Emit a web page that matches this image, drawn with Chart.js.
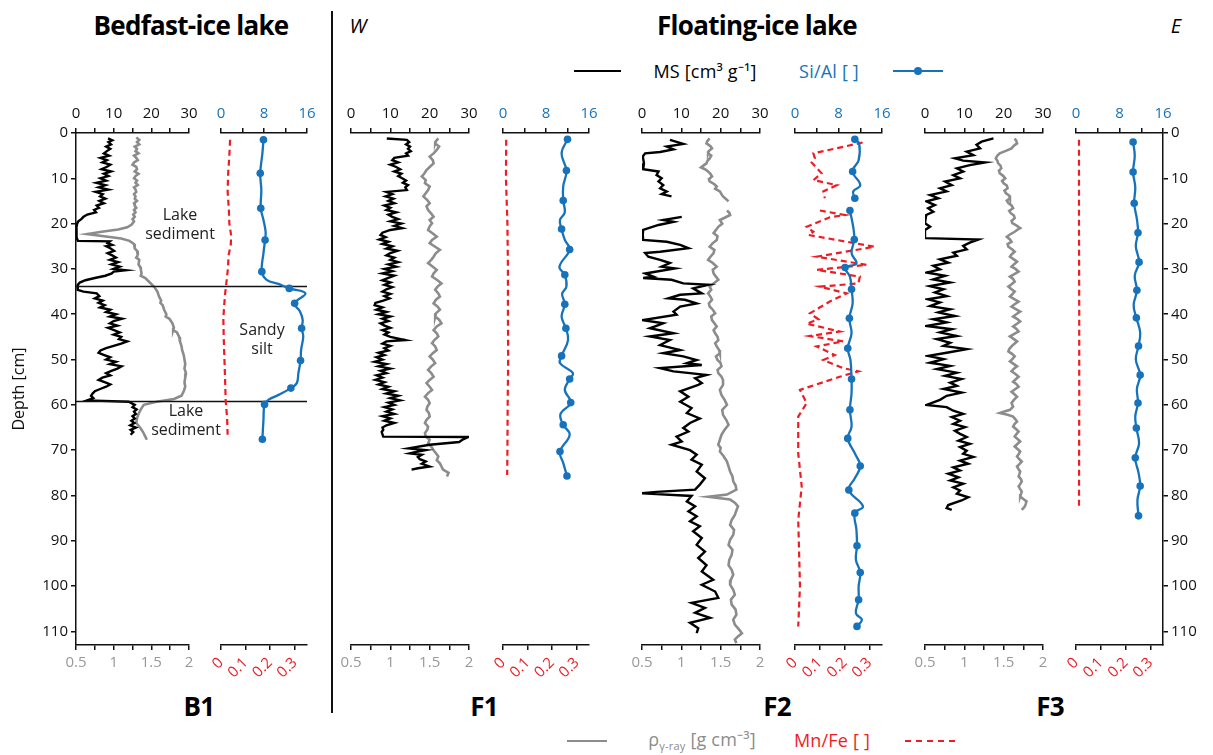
<!DOCTYPE html>
<html>
<head>
<meta charset="utf-8">
<script src="https://cdn.jsdelivr.net/npm/chart.js@4.4.1/dist/chart.umd.min.js"></script>
<style>
  body { margin: 0; background: #fff; }
  #page { position: relative; width: 1213px; height: 755px; overflow: hidden; background: #fff; font-family: 'Open Sans', sans-serif; }
  #page canvas { position: absolute; }
  .t { position: absolute; white-space: nowrap; transform: translate(-50%, -50%); }
  .big { font-weight: 700; font-size: 26px; letter-spacing: -0.7px; color: #000; }
  .dir { font-style: italic; font-size: 20px; color: #000; }
  .lg { font-size: 18px; letter-spacing: 0.2px; }
  .sep { position: absolute; left: 331px; top: 11px; width: 1.5px; height: 702px; background: #111; }
  .ln { position: absolute; height: 0; }
</style>
</head>
<body>
<div id="page">
  <div class="sep"></div>
  <div class="t big" style="left:191px;top:25px">Bedfast-ice lake</div>
  <div class="t dir" style="left:358px;top:25px">W</div>
  <div class="t big" style="left:757px;top:25px">Floating-ice lake</div>
  <div class="t dir" style="left:1176px;top:25px">E</div>

  <div class="ln" style="left:574px;top:70px;width:47px;border-top:2px solid #000"></div>
  <div class="t lg" style="left:705px;top:71px;color:#000">MS [cm³ g⁻¹]</div>
  <div class="t lg" style="left:829px;top:71px;color:#1673bb">Si/Al [ ]</div>
  <div class="ln" style="left:893px;top:70px;width:50px;border-top:2px solid #1673bb"></div>
  <div style="position:absolute;left:914px;top:67px;width:8px;height:8px;border-radius:50%;background:#1673bb"></div>

  <div class="ln" style="left:567px;top:740px;width:40px;border-top:2px solid #8c8c8c"></div>
  <div class="t lg" style="left:702px;top:740px;color:#8c8c8c">ρ<sub style="font-size:11px">γ-ray</sub> [g cm⁻³]</div>
  <div class="t lg" style="left:832px;top:740px;color:#ee1c24">Mn/Fe [ ]</div>
  <div class="ln" style="left:905px;top:740px;width:50px;border-top:2px dashed #ee1c24"></div>

  <div class="t big" style="left:199px;top:706px">B1</div>
  <div class="t big" style="left:484px;top:706px">F1</div>
  <div class="t big" style="left:777px;top:706px">F2</div>
  <div class="t big" style="left:1050px;top:706px">F3</div>
</div>
<script>
// ---- data: [depth cm, value] ----
const depthTicks = [0, 10, 20, 30, 40, 50, 60, 70, 80, 90, 100, 110];
const msTicks = [0, 10, 20, 30];
const rhoTicks = [0.5, 1, 1.5, 2];
const siTicks = [0, 8, 16];
const mnTicks = [0, 0.1, 0.2, 0.3];

// B1
const msB1 = [[1.2,8.5],[1.6,9.6],[2,8.6],[2.5,9.3],[3,8],[3.5,9.1],[4,8.2],[4.5,7.4],[5,8.8],[5.5,6.5],[6,8.2],[6.5,7],[7,9.1],[7.5,8.1],[8,6.8],[8.5,9.3],[9,7.4],[9.5,8.6],[10,6.5],[10.5,8],[11,5.4],[11.5,7.8],[12,6],[12.5,8.6],[13,5.2],[13.5,7.1],[14,6.4],[14.5,7.8],[15,6.2],[15.5,7.4],[16,5.5],[16.5,6.1],[17,4.8],[17.5,5.3],[18,3],[18.5,2],[19,1.4],[19.5,0.6],[20,0.3],[21,0.1],[22,0.1],[23,0.2],[23.8,0.5],[23.9,9],[24.3,8.4],[24.7,9.6],[25,8],[25.5,9.2],[26,10.1],[26.5,8.4],[27,9.6],[27.5,10.6],[28,9],[28.5,11.2],[29,9.4],[29.5,11.6],[30,10],[30.3,13.2],[30.6,10],[31,9.5],[31.5,7.8],[32,5],[32.5,2.5],[33,1],[33.5,0.5],[34,0.4],[34.6,0.5],[35,2],[35.4,5.5],[36,6.2],[36.5,5],[37,7.1],[37.5,6],[38,7.6],[38.5,6.4],[39,9.1],[39.5,8],[40,10.6],[40.5,9],[41,12.2],[41.5,10],[42,9],[42.5,11],[43,8.5],[43.5,10.1],[44,11.6],[44.5,10],[45,12],[45.5,11.4],[46,13.6],[46.5,12],[47,10],[47.5,8],[48,6.5],[48.5,6],[49,7.5],[49.5,9.1],[50,8],[50.5,10.6],[51,9],[51.5,12.1],[52,11],[52.5,9.4],[53,8],[53.5,9.1],[54,7],[54.5,6],[55,7.6],[55.5,9.1],[56,8],[56.5,6.4],[57,5],[57.5,4.4],[58,4],[58.5,4.6],[59,3],[59.3,14],[60,15.6],[60.5,15],[61,16.1],[61.5,15.4],[62,15.9],[62.5,15],[63,15.6],[63.5,14.7],[64,15.5],[64.5,14.4],[65,15.9],[65.5,14.5],[66,15.2],[66.6,14.5]];
const rhoB1 = [[1,1.3],[1.5,1.34],[2,1.31],[2.5,1.34],[3,1.28],[3.5,1.31],[4,1.29],[4.5,1.33],[5,1.27],[5.5,1.3],[6,1.32],[6.5,1.27],[7,1.25],[7.5,1.3],[8,1.31],[8.5,1.28],[9,1.33],[9.5,1.29],[10,1.27],[10.5,1.31],[11,1.29],[11.5,1.32],[12,1.27],[12.5,1.29],[13,1.3],[13.5,1.27],[14,1.29],[14.5,1.28],[15,1.31],[15.5,1.27],[16,1.28],[16.5,1.3],[17,1.27],[17.5,1.29],[18,1.26],[18.5,1.28],[19,1.25],[19.5,1.27],[20.2,1.24],[20.8,1.18],[21.3,1.06],[21.8,0.84],[22.3,0.65],[22.8,0.87],[23.3,1.1],[23.8,1.21],[24.5,1.27],[25.5,1.28],[26,1.31],[27,1.32],[27.5,1.3],[28,1.34],[29,1.33],[29.5,1.35],[30,1.36],[31,1.37],[31.5,1.36],[32,1.42],[33,1.48],[34,1.54],[35,1.58],[36,1.6],[37,1.63],[37.5,1.62],[38,1.65],[39,1.67],[40,1.7],[40.5,1.69],[41,1.74],[42,1.78],[43,1.8],[43.5,1.79],[44,1.84],[45,1.87],[46,1.88],[47,1.9],[48,1.91],[49,1.93],[50,1.94],[51,1.95],[52,1.94],[53,1.96],[54,1.95],[55,1.94],[56,1.95],[57,1.93],[58,1.9],[58.7,1.8],[59.3,1.57],[60,1.4],[61,1.36],[62,1.33],[63,1.31],[64,1.3],[65,1.35],[66,1.39],[67,1.42],[67.7,1.44]];
// [depth, value, dot]
const siB1 = [[1.5,7.9,1],[4.5,7.7],[8.9,7.3,1],[12.6,7.5],[16.6,7.4,1],[19.2,7.9],[21.8,8.3],[23.6,8.2,1],[26.5,7.9],[30.6,7.6,1],[32.4,8.5],[33.3,10.7],[34.3,12.7,1],[35.4,15.7],[37.6,13.7,1],[39.4,14.7],[41.3,15.2],[43.1,15.0,1],[44.9,15.3],[47.9,14.9],[50.2,14.8,1],[53,14.4],[55.2,14.1],[56.3,13.0,1],[57.8,10.7],[58.9,8.8],[59.9,8.1,1],[63.3,7.9],[67.6,7.7,1]];
const mnB1 = [[1.5,0.037],[5,0.034],[9,0.029],[13,0.027],[17,0.032],[20,0.034],[22.5,0.041],[24.5,0.04],[27,0.031],[30,0.028],[32.5,0.023],[35.4,0.017],[38,0.013],[41,0.0095],[45,0.011],[50,0.014],[55,0.017],[59,0.019],[63,0.025],[66.6,0.027]];

// F1
const msF1 = [[1.2,9.1],[1.5,14.2],[2,14.8],[2.5,14],[3,15],[3.5,14.5],[4,15.2],[4.5,14],[5,14.5],[5.5,11],[6,10.5],[6.5,12],[7,10],[7.5,11.5],[8,12.5],[8.5,11],[9,12.8],[9.5,12],[10,13],[10.5,14],[11,13.2],[11.5,14.5],[12,13.8],[12.6,14.2],[13,9],[13.5,10.5],[14,8.8],[14.5,10.8],[15,9.5],[15.5,11],[16,8.5],[16.5,10],[17,9],[17.5,11.5],[18,9.5],[18.5,10.5],[19,12],[19.5,10],[20,12.8],[20.5,11],[21,13],[21.4,10],[22,8],[22.5,7.5],[23,8.8],[23.5,7.2],[24,9.5],[24.5,8],[25,10.5],[25.5,9],[26,11.8],[26.5,10],[27,9],[27.5,11],[28,10],[28.5,12],[29,9.5],[29.5,11.5],[30,8.5],[30.5,10.5],[31,8],[31.5,11],[32,9.5],[32.5,8],[33,10],[33.5,8.5],[34,10.5],[34.5,9],[35,8],[35.5,10],[36,8.5],[36.5,9.8],[37,8.2],[37.5,6.2],[38,6],[38.5,8],[39,6.5],[39.5,9],[40,7],[40.5,10],[41,8],[41.5,9.5],[42,7.5],[42.5,8.5],[43,10],[43.5,8],[44,9.5],[44.5,8.5],[45,10],[45.7,13.8],[46,9],[46.5,8],[47,10],[47.5,8.5],[48,9.5],[48.5,7],[49,8.5],[49.5,6.5],[50,8],[50.5,6],[51,9],[51.5,7],[52,10],[52.5,7.5],[53,9],[53.5,6.5],[54,8],[54.5,6.2],[55,8.5],[55.5,7],[56,9.5],[56.5,8],[57,11],[57.5,9],[58,12],[58.5,10],[59,12.5],[59.5,9.5],[60,11],[60.5,8.5],[61,10.5],[61.5,9],[62,11],[62.5,8],[63,10],[63.5,8.5],[64,11],[64.5,9],[65,8],[65.5,8.2],[66,7.8],[66.5,8],[67,8.2],[67.1,29.8],[67.6,28.5],[68.2,27.5],[68.8,20],[69.6,14.6],[70,19],[70.5,16],[70.7,15],[71,18],[71.5,17],[72,17.5],[72.5,19],[73,18],[73.6,20],[74,17],[74.3,15.4]];
const rhoF1 = [[1.2,1.61],[1.8,1.58],[2.3,1.57],[3,1.62],[3.75,1.59],[4.5,1.55],[5.2,1.5],[6,1.54],[6.7,1.55],[7.5,1.5],[8.2,1.46],[9,1.43],[9.6,1.4],[10.4,1.45],[11.1,1.44],[11.8,1.5],[12.6,1.48],[13.3,1.45],[14,1.42],[14.8,1.47],[15.5,1.5],[16.2,1.46],[17,1.48],[17.8,1.52],[18.5,1.55],[19.2,1.5],[19.9,1.53],[20.6,1.5],[21.4,1.48],[22.2,1.54],[22.9,1.59],[23.6,1.53],[24.3,1.5],[25,1.56],[25.8,1.63],[26.5,1.58],[27.3,1.55],[28,1.52],[28.7,1.48],[29.5,1.54],[30.2,1.59],[31,1.55],[31.7,1.53],[32.5,1.6],[33.2,1.65],[33.9,1.6],[34.6,1.57],[35.4,1.61],[36.1,1.63],[36.8,1.58],[37.6,1.55],[38.3,1.6],[39,1.63],[39.8,1.58],[40.5,1.57],[41.2,1.62],[42,1.65],[42.7,1.59],[43.5,1.55],[44.2,1.59],[44.9,1.61],[45.7,1.56],[46.4,1.53],[47.1,1.57],[47.9,1.59],[48.6,1.54],[49.3,1.5],[50,1.54],[50.8,1.57],[51.5,1.52],[52.3,1.48],[53,1.52],[53.8,1.55],[54.5,1.5],[55.2,1.46],[56,1.5],[56.7,1.53],[57.4,1.48],[58.2,1.44],[58.9,1.48],[59.6,1.5],[60.4,1.47],[61.1,1.46],[61.8,1.49],[62.6,1.5],[63.3,1.46],[64,1.44],[64.8,1.48],[65.5,1.47],[66.2,1.44],[67,1.45],[67.7,1.5],[68.5,1.48],[69.2,1.52],[70,1.55],[70.7,1.58],[71.4,1.61],[72.2,1.59],[72.9,1.63],[73.6,1.65],[74.3,1.67],[75,1.74],[75.8,1.72]];
const siF1 = [[1.4,12.0,1],[4.5,10.9],[8.3,11.8,1],[11.8,11.2],[14.9,11.2,1],[17.5,11.5],[19.2,10.6],[21.2,10.9,1],[23.6,11.5],[25.7,12.4,1],[29.5,10.5],[31.3,11.5,1],[33.9,11.8],[35.5,11],[37.8,11.5,1],[40.5,10.9],[43.1,11.7,1],[45.7,12.1],[49.2,10.9,1],[50.8,10.6],[53,13],[54.3,12.4,1],[56.7,11.5],[59.5,12.6,1],[62,10.7],[64.4,11.2,1],[66.6,12.4],[70.3,10.6,1],[72.8,11.2],[75.7,11.9,1]];
const mnF1 = [[1.5,0.013],[10,0.012],[20,0.018],[30,0.02],[40,0.02],[50,0.021],[60,0.019],[70,0.018],[75.5,0.017]];

// F2
const msF2 = [[1.5,7.1],[2.4,10.5],[3,6.3],[3.6,8],[4.2,4.6],[4.5,0.8],[5.2,0.2],[6.7,0.5],[8,0.3],[8.5,4.2],[9.3,3.7],[10,5],[10.7,4.2],[11.5,5.4],[12.2,4.6],[12.9,6.3],[13.5,5],[14,7.5],[16,null],[18.5,10.1],[19.2,5.4],[19.6,8],[20.3,4.2],[21.4,0.3],[22.5,0.2],[23.6,0.3],[24,6.3],[24.7,9.7],[25.4,11.8],[26.2,4.6],[26.5,0.8],[27.3,1.6],[28,4.6],[28.7,7.1],[29.5,5],[29.9,8.4],[31,0.8],[31.7,2.9],[32,0.3],[32.4,7.5],[33.2,10.5],[33.5,16.9],[34.3,13],[35.4,15.2],[35.7,9.7],[36.5,6.7],[36.8,10.9],[37.6,13.9],[38.3,9.7],[39.4,8],[40.1,8.8],[41.3,0.3],[42,5.4],[43.1,2],[44.2,8],[44.9,2],[45.7,7.1],[46.8,4.6],[47.9,9.7],[48.6,5.4],[49.3,10.5],[50.1,13.9],[50.8,11.4],[51.2,15.2],[51.9,4.6],[52.6,8],[53,12.2],[53.4,16.4],[54.1,13.5],[55.2,15.2],[55.6,14.3],[57,9.7],[58.2,11.8],[59.3,9.7],[60.7,12.6],[61.8,11.4],[63,14.7],[64,12.2],[65.1,10.5],[65.9,11.8],[67,8.8],[68.1,10.1],[68.8,7.5],[70,12.2],[71,13.9],[72.1,12.6],[73.2,15.2],[74.7,13.9],[76.2,16],[77.6,14.7],[78.7,13.5],[79.2,3.7],[79.5,0],[79.7,3.7],[80.1,12.6],[81.3,11.4],[82.4,13.5],[83.5,11.8],[84.6,13.9],[85.7,12.2],[86.8,14.7],[87.9,13],[89.4,15.2],[90.9,13.9],[92.4,16],[93.8,14.3],[95.4,16.4],[96.8,15.2],[98.6,18.1],[99.7,15.2],[101.2,18.6],[102.6,19.4],[103.7,12.6],[104.8,16],[105.9,13.5],[107,17.3],[108.1,12.2],[109.3,14.3],[110.4,13.9]];
const rhoF2 = [[1.2,1.36],[1.8,1.33],[2.3,1.32],[2.9,1.37],[3.4,1.39],[4,1.35],[4.5,1.34],[5,1.38],[5.6,1.36],[6.2,1.33],[6.7,1.32],[7.2,1.28],[7.6,1.25],[8,1.3],[8.5,1.34],[9,1.37],[9.6,1.39],[10.2,1.35],[10.7,1.36],[11.3,1.42],[11.8,1.45],[12.3,1.43],[12.9,1.49],[13.5,1.51],[14,1.53],[14.6,1.57],[15.1,1.6],[16,null],[17.1,1.58],[17.6,1.61],[18.1,1.62],[18.7,1.55],[19.2,1.49],[20,1.52],[20.7,1.47],[21.4,1.44],[22.1,1.41],[22.8,1.46],[23.6,1.45],[24.3,1.4],[25.1,1.36],[25.8,1.42],[26.5,1.41],[27.3,1.37],[28,1.34],[28.7,1.4],[29.5,1.45],[30.2,1.4],[31,1.41],[31.7,1.44],[32.4,1.47],[33.2,1.41],[33.9,1.36],[34.6,1.38],[35.4,1.34],[36.1,1.37],[36.8,1.39],[37.6,1.35],[38.3,1.36],[39,1.4],[39.8,1.43],[40.5,1.38],[41.3,1.39],[42,1.42],[42.7,1.45],[43.5,1.41],[44.2,1.43],[45,1.46],[45.7,1.47],[46.4,1.43],[47.1,1.45],[47.9,1.48],[48.6,1.49],[49.3,1.44],[50.1,1.46],[50.8,1.5],[51.5,1.51],[52.3,1.46],[53,1.47],[53.8,1.51],[54.5,1.53],[55.6,1.53],[56.7,1.49],[57.8,1.51],[58.9,1.55],[60,1.58],[61.1,1.52],[62.2,1.53],[63.3,1.57],[64.4,1.6],[65.5,1.55],[66.6,1.51],[67.7,1.49],[68.8,1.47],[69.5,1.5],[70.3,1.49],[71.4,1.54],[72.5,1.58],[73.6,1.6],[74.7,1.62],[75.8,1.65],[76.9,1.66],[77.8,1.69],[78.7,1.7],[79.8,1.58],[80.3,1.34],[80.9,1.62],[81.6,1.68],[82.4,1.72],[83.3,1.7],[84.3,1.68],[85.4,1.64],[86.5,1.62],[87.6,1.67],[88.7,1.66],[89.8,1.62],[90.9,1.6],[92,1.65],[93.1,1.64],[94.2,1.61],[95.4,1.6],[96.4,1.64],[97.5,1.66],[98.6,1.63],[99.7,1.62],[100.8,1.66],[101.9,1.68],[103,1.63],[104.1,1.64],[105.2,1.69],[106.3,1.7],[107.4,1.66],[108.5,1.68],[109.5,1.73],[110.4,1.77],[111.1,1.72],[111.8,1.68],[112.6,1.7]];
const siF2 = [[1.4,11.0,1],[2.3,11.8],[6,11.7],[8.5,10.6,1],[11.5,12.0],[12.9,10.7],[14.4,11.0,1],[15.8,null],[17.1,10.1,1],[20.7,10.7],[23.5,10.9,1],[26.5,10.4],[28.8,11.3],[29.7,9.2,1],[31.7,10.1],[34.5,10.4,1],[37.6,10.6],[40.9,10.0,1],[44.2,10.4],[47.5,9.7,1],[50.1,10.2],[54.3,10.4,1],[57.4,10.4],[61.1,10.1,1],[64.8,10.4],[67.4,9.7,1],[70.7,11.0],[73.5,12.0,1],[76.2,11.0],[78.8,9.9,1],[82.4,12.5],[83.9,11.0,1],[87.6,11.3],[91.1,11.4,1],[94.2,11.2],[97,12.0,1],[100.1,11.7],[103,11.7,1],[106,11.2],[107.4,12.3],[108.9,11.4,1]];
const mnF2 = [[2.1,0.272],[4.5,0.074],[5.6,0.08],[6.5,0.067],[8.9,0.107],[10.4,0.074],[11.5,0.168],[12.9,0.114],[14.4,0.12],[15.8,null],[17.1,0.1],[18.1,0.2],[18.6,0.14],[20.7,0.047],[21.8,0.074],[22.5,0.054],[25.1,0.32],[27.3,0.087],[29.1,0.288],[30.2,0.087],[31.7,0.261],[33.2,0.255],[33.9,0.1],[35.4,0.208],[37.2,0.14],[39.8,0.06],[41.1,0.094],[42.1,0.047],[43.8,0.18],[44.8,0.06],[46,0.194],[47.1,0.087],[49,0.16],[50.1,0.114],[51.9,0.194],[52.6,0.255],[53.8,0.18],[56.7,0.02],[59.6,0.047],[62.6,0.013],[70.7,0.013],[78,0.027],[85.4,0.013],[100,0.02],[108.9,0.013]];

// F3
const msF3 = [[1.2,17.4],[1.9,14.4],[2.6,13.1],[3.4,14],[4.1,10.6],[4.9,12.3],[5.6,7.6],[6.1,9.7],[6.5,15.3],[7.1,11.4],[7.8,8.1],[8.5,9.7],[9.3,7.2],[10,8.9],[10.7,5.1],[11.5,6.8],[12.2,3.8],[12.9,5.5],[13.7,1.3],[14.4,3.4],[15.1,0.4],[15.9,2.5],[16.6,0.8],[17.4,2.1],[18.1,0.3],[19.9,0],[20.7,1.3],[21.4,0],[23.2,0],[23.5,13.6],[24.2,11.4],[24.9,9.7],[25.7,10.6],[26.4,7.2],[27.1,8.1],[27.9,3.8],[28.6,5.9],[29.3,2.1],[30.1,3.8],[30.8,0.4],[31.5,5.1],[32.3,2.1],[33,6.4],[33.8,1.3],[34.5,4.7],[35.2,2.5],[36,5.5],[36.7,0.8],[37.4,3.8],[38.2,1.3],[38.9,6.4],[39.6,3.4],[40.4,7.6],[41.1,2.1],[41.8,5.5],[42.6,0.4],[43.3,6.8],[44,3.8],[44.8,8.1],[45.5,3],[46.3,6.4],[47,4.7],[47.7,10.6],[48.5,5.5],[49.2,0.8],[49.9,4.7],[50.7,1.3],[51.4,6.4],[52.1,3],[52.9,8.1],[53.6,5.1],[54.3,9.3],[55.1,6.4],[55.8,8.1],[56.5,4.7],[57.3,9.3],[58,5.5],[58.9,3.8],[60,0.4],[60.5,5.5],[61.3,7.2],[62,9.7],[62.7,6.8],[63.5,8.9],[64.2,7.2],[64.9,10.2],[65.7,7.6],[66.4,8.9],[67.1,10.6],[67.9,8.5],[68.6,11.4],[69.3,8.9],[70.1,10.6],[70.8,9.7],[71.5,12.3],[72.3,8.9],[73,11],[73.8,7.2],[74.5,8.9],[75.2,5.9],[76,8.5],[76.7,6.4],[77.4,9.7],[78.2,7.2],[78.9,8.9],[79.6,8.1],[80.4,11],[81.1,9.3],[82.1,5.9],[82.8,5.5],[83.2,6.8]];
const rhoF3 = [[1.2,1.64],[1.7,1.66],[2.3,1.67],[2.8,1.63],[3.4,1.6],[4,1.52],[4.5,1.45],[5,1.42],[5.6,1.4],[6.1,1.42],[6.7,1.43],[7.2,1.46],[7.8,1.47],[8.3,1.44],[8.9,1.45],[9.4,1.49],[10,1.52],[10.6,1.48],[11.1,1.5],[11.6,1.54],[12.2,1.55],[12.7,1.51],[13.3,1.53],[13.8,1.57],[14.4,1.58],[14.9,1.54],[15.5,1.56],[16,1.6],[16.6,1.62],[17.2,1.57],[17.7,1.59],[18.2,1.63],[18.8,1.64],[19.4,1.6],[19.9,1.61],[20.4,1.66],[21,1.71],[21.4,1.67],[21.8,1.64],[22.4,1.58],[22.9,1.54],[23.5,1.58],[24,1.6],[24.5,1.55],[25.1,1.56],[25.7,1.61],[26.2,1.64],[26.8,1.6],[27.3,1.58],[27.9,1.63],[28.4,1.67],[29,1.63],[29.5,1.6],[30,1.65],[30.6,1.69],[31.2,1.63],[31.7,1.58],[32.2,1.62],[32.8,1.64],[33.4,1.6],[33.9,1.56],[34.5,1.6],[35,1.64],[35.6,1.61],[36.1,1.58],[36.7,1.64],[37.2,1.69],[37.8,1.64],[38.3,1.6],[38.9,1.66],[39.4,1.71],[40,1.66],[40.5,1.62],[41,1.67],[41.6,1.71],[42.2,1.66],[42.7,1.62],[43.2,1.66],[43.8,1.69],[44.4,1.63],[44.9,1.58],[45.5,1.63],[46,1.67],[46.6,1.63],[47.1,1.6],[47.7,1.57],[48.2,1.56],[48.8,1.61],[49.3,1.64],[49.9,1.61],[50.4,1.58],[51,1.63],[51.5,1.67],[52,1.63],[52.6,1.6],[53.2,1.65],[53.8,1.69],[54.4,1.65],[54.9,1.62],[55.4,1.66],[56,1.69],[56.6,1.64],[57.1,1.6],[57.7,1.64],[58.2,1.67],[58.9,1.63],[59.6,1.6],[60.4,1.62],[61.1,1.58],[61.5,1.5],[61.8,1.45],[62.2,1.55],[62.6,1.62],[63.2,1.65],[63.7,1.67],[64.2,1.64],[64.8,1.62],[65.4,1.66],[65.9,1.69],[66.5,1.66],[67,1.64],[67.6,1.68],[68.1,1.71],[68.7,1.67],[69.2,1.64],[69.8,1.68],[70.3,1.71],[70.9,1.69],[71.4,1.67],[72,1.7],[72.5,1.73],[73.1,1.7],[73.6,1.67],[74.2,1.69],[74.7,1.71],[75.3,1.7],[75.8,1.69],[76.4,1.72],[76.9,1.73],[77.5,1.71],[78,1.69],[78.6,1.71],[79.1,1.73],[79.7,1.72],[80.2,1.71],[80.8,1.75],[81.3,1.79],[81.9,1.78],[82.4,1.77],[83.2,1.73]];
const siF3 = [[2,10.5,1],[5,10.8],[8.6,10.5,1],[12,10.9],[15.5,10.7,1],[19,11.2],[22,11.4,1],[25,11],[28.5,11.6,1],[31.5,10.8],[34.7,11.2,1],[38,10.6],[40.8,11.1,1],[44,11.8],[47,11.5,1],[50,11],[53.4,11.8,1],[56.5,11.2],[59.6,11.4,1],[62.5,10.9],[65.1,11.1,1],[68.5,11.6],[71.7,10.9,1],[75,11.5],[77.9,11.8,1],[81,11.3],[84.5,11.5,1]];
const mnF3 = [[1.5,0.012],[20,0.012],[40,0.013],[60,0.013],[83,0.012]];

// B1 lithology
const b1Boundaries = [33.7, 59.2];
const b1Units = [
  { lines: ['Lake', 'sediment'], depth: 20.3, dx: 104 },
  { lines: ['Sandy', 'silt'], depth: 45.6, dx: 186 },
  { lines: ['Lake', 'sediment'], depth: 63.6, dx: 110 }
];

// ---- layout ----
const AXIS_TOP = 133, AXIS_BOTTOM = 645;
const TOP_H = 40, BOTTOM_H = 50;
const BLACK = '#111', GREY = '#8c8c8c', BLUE = '#1673bb', RED = '#ee1c24';
const FONT = "'Open Sans', sans-serif";

function pts(arr) {
  return arr.map(p => ({ x: p[1], y: p[1] === null ? null : p[0], dot: p[2] === 1 }));
}

function hAxis(pos, min, max, step, labels, color, rotate) {
  return {
    type: 'linear', position: pos, min: min, max: max,
    afterFit: s => { s.height = pos === 'top' ? TOP_H : BOTTOM_H; s.paddingLeft = 0; s.paddingRight = 0; },
    ticks: {
      stepSize: step, includeBounds: false, autoSkip: false,
      minRotation: rotate, maxRotation: rotate, padding: pos === 'top' ? 5 : 4,
      color: color, font: { family: FONT, size: 15 },
      callback: v => labels.some(l => Math.abs(l - v) < 1e-6) ? String(v) : ''
    },
    grid: { drawOnChartArea: false, drawTicks: true, tickLength: 5, color: BLACK, lineWidth: 1.5 },
    border: { display: true, color: BLACK, width: 1.5 }
  };
}

function vAxis(side) {
  if (!side) return { type: 'linear', reverse: true, min: 0, max: 113, display: false };
  return {
    type: 'linear', position: side, reverse: true, min: 0, max: 113,
    afterFit: s => { s.width = side === 'left' ? 70 : 40; s.paddingTop = 0; s.paddingBottom = 0; },
    ticks: {
      stepSize: 10, includeBounds: false, padding: 3,
      color: BLACK, font: { family: FONT, size: 15 },
      callback: v => depthTicks.includes(v) ? String(v) : ''
    },
    title: { display: side === 'left', text: 'Depth [cm]', color: BLACK, font: { family: FONT, size: 16 } },
    grid: { drawOnChartArea: false, drawTicks: true, tickLength: 5, color: BLACK, lineWidth: 1.5 },
    border: { display: true, color: BLACK, width: 1.5 }
  };
}

const lithology = {
  id: 'lithology',
  afterDatasetsDraw(chart) {
    const { ctx, chartArea } = chart;
    const y = chart.scales.y;
    ctx.save();
    ctx.strokeStyle = BLACK;
    ctx.lineWidth = 1.5;
    b1Boundaries.forEach(d => {
      const py = Math.round(y.getPixelForValue(d)) + 0.5;
      ctx.beginPath();
      ctx.moveTo(chartArea.left, py);
      ctx.lineTo(chartArea.left + 231, py);
      ctx.stroke();
    });
    ctx.fillStyle = '#222';
    ctx.font = "16px " + FONT;
    ctx.textAlign = 'center';
    ctx.textBaseline = 'middle';
    b1Units.forEach(u => {
      const cy = y.getPixelForValue(u.depth);
      u.lines.forEach((t, i) => {
        ctx.fillText(t, chartArea.left + u.dx, cy + (i - (u.lines.length - 1) / 2) * 19);
      });
    });
    ctx.restore();
  }
};

function makePanel(o) {
  const padL = o.padL === undefined ? 16 : o.padL;
  const padR = o.padR === undefined ? 16 : o.padR;
  const yl = o.depth === 'left' ? 70 : 0;
  const yr = o.depth === 'right' ? 40 : 0;
  const c = document.createElement('canvas');
  c.width = padL + yl + (o.right - o.left) + yr + padR;
  c.height = TOP_H + (AXIS_BOTTOM - AXIS_TOP) + BOTTOM_H;
  c.style.left = (o.left - padL - yl) + 'px';
  c.style.top = (AXIS_TOP - TOP_H) + 'px';
  document.getElementById('page').appendChild(c);

  const ms = o.kind === 'ms';
  const datasets = ms ? [
    { data: pts(o.a), xAxisID: 'x', borderColor: '#000', borderWidth: 2.4 },
    { data: pts(o.b), xAxisID: 'x2', borderColor: GREY, borderWidth: 2.6 }
  ] : [
    { data: pts(o.a), xAxisID: 'x', borderColor: BLUE, borderWidth: 2.3, tension: 0.4,
      pointRadius: ctx => (ctx.raw && ctx.raw.dot) ? 3.8 : 0,
      pointBackgroundColor: BLUE, pointBorderWidth: 0 },
    { data: pts(o.b), xAxisID: 'x2', borderColor: RED, borderWidth: 2.2, borderDash: [6, 4], tension: 0 }
  ];
  datasets.forEach(d => { d.yAxisID = 'y'; d.spanGaps = false; if (d.pointRadius === undefined) d.pointRadius = 0; });

  new Chart(c, {
    type: 'line',
    data: { datasets: datasets },
    options: {
      responsive: false, animation: false, parsing: false,
      layout: { padding: { left: padL, right: padR, top: 0, bottom: 0 } },
      plugins: { legend: { display: false }, tooltip: { enabled: false } },
      scales: {
        x: ms ? hAxis('top', 0, 30, 5, msTicks, BLACK, 0) : hAxis('top', 0, 16, 4, siTicks, BLUE, 0),
        x2: ms ? hAxis('bottom', 0.5, 2, 0.25, rhoTicks, '#999', 0) : hAxis('bottom', 0, 0.35, 0.1, mnTicks, RED, 45),
        y: vAxis(o.depth)
      }
    },
    plugins: o.plugins || []
  });
}

makePanel({ kind: 'ms', left: 76, right: 189, a: msB1, b: rhoB1, depth: 'left', padL: 0, padR: 125, plugins: [lithology] });
makePanel({ kind: 'geo', left: 221, right: 307, a: siB1, b: mnB1 });
makePanel({ kind: 'ms', left: 351, right: 469, a: msF1, b: rhoF1 });
makePanel({ kind: 'geo', left: 503, right: 589, a: siF1, b: mnF1 });
makePanel({ kind: 'ms', left: 642, right: 760, a: msF2, b: rhoF2 });
makePanel({ kind: 'geo', left: 795, right: 882, a: siF2, b: mnF2 });
makePanel({ kind: 'ms', left: 925, right: 1043, a: msF3, b: rhoF3 });
makePanel({ kind: 'geo', left: 1076, right: 1163, a: siF3, b: mnF3, depth: 'right', padR: 0 });
</script>
</body>
</html>
